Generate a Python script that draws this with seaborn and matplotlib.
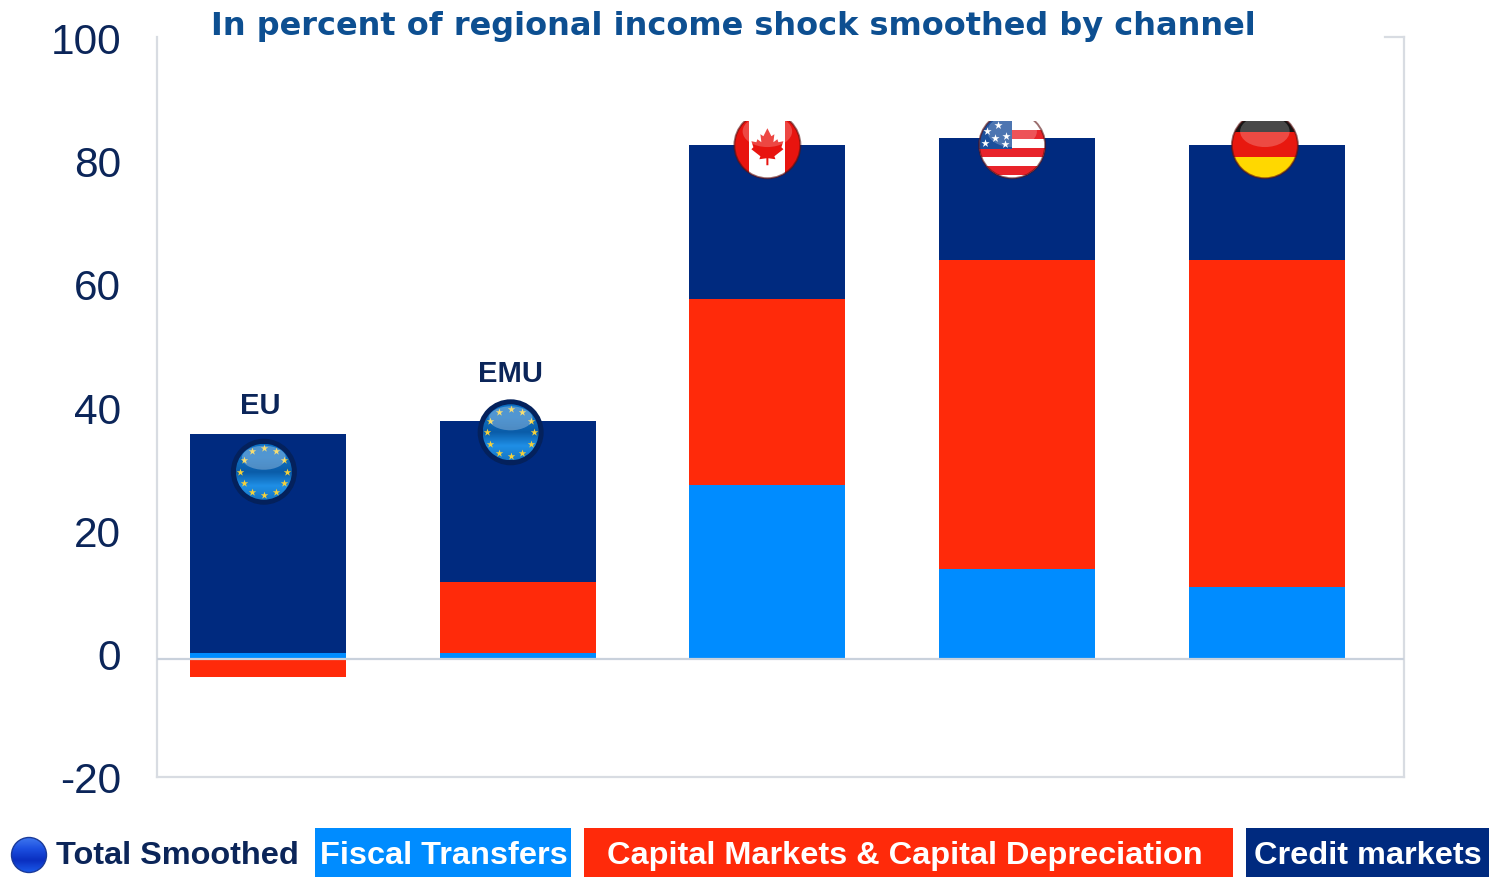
import numpy as np
import pandas as pd
import seaborn as sns
import matplotlib
matplotlib.use('Agg')
import matplotlib.pyplot as plt
from matplotlib.patches import Circle, Ellipse, Rectangle, Polygon

# values
regions = ['EU', 'EMU', 'Canada', 'USA', 'Germany']
fiscal_transfers = [1.0, 1.0, 28.2, 14.6, 11.7]
capital_markets = [-3.0, 11.5, 30.2, 50.2, 53.1]
credit_markets = [35.5, 26.1, 25.0, 19.8, 18.6]
total_smoothed = [30.4, 36.8, 83.4, 83.4, 83.4]
region_labels = ['EU', 'EMU', '', '', '']
y_ticks = [-20, 0, 20, 40, 60, 80, 100]

BLUE = '#008cff'
RED = '#ff2a0a'
NAVY = '#002a7f'
TEXT = '#0b2559'
GRID = '#d8dce2'

sns.set_theme(style='white')
plt.rcParams['font.family'] = ['Liberation Sans', 'DejaVu Sans']

W, H = 1489, 877
fig = plt.figure(figsize=(W / 100, H / 100), dpi=100)
ax = fig.add_axes([157 / W, (H - 782.2) / H, (1404 - 157) / W, (782.2 - 37) / H])

df = pd.DataFrame({'region': regions, 'fiscal': fiscal_transfers,
                   'capital': capital_markets, 'credit': credit_markets})
df['capital_bottom'] = [0 if c < 0 else f for c, f in zip(df['capital'], df['fiscal'])]
df['credit_bottom'] = [f if c < 0 else f + c for c, f in zip(df['capital'], df['fiscal'])]

sns.barplot(data=df, x='region', y='fiscal', color=BLUE, saturation=1, width=0.625, ax=ax)
sns.barplot(data=df, x='region', y='capital', bottom=df['capital_bottom'], color=RED,
            saturation=1, width=0.625, ax=ax)
sns.barplot(data=df, x='region', y='credit', bottom=df['credit_bottom'], color=NAVY,
            saturation=1, width=0.625, ax=ax)
for p in ax.patches:
    p.set_linewidth(0)

ax.set_xlim(-0.444, 4.549)
ax.set_ylim(-20, 100.97)
ax.set_xlabel('')
ax.set_ylabel('')
ax.set_xticks([])
ax.set_yticks(y_ticks)
ax.set_yticklabels([str(t) for t in y_ticks], fontsize=30.5, color=TEXT)
ax.tick_params(axis='y', length=0, pad=26)
for lab in ax.get_yticklabels():
    lab.set_va('center')

box_bottom = -19.16
ax.axhline(0.0, color='#c9d1dc', lw=1.6, zorder=3)
ax.spines['bottom'].set_position(('data', box_bottom))
ax.spines['left'].set_bounds(box_bottom, 100.97)
ax.spines['right'].set_bounds(box_bottom, 100.97)
ax.spines['top'].set_bounds(4.473, 4.549)
for s in ax.spines.values():
    s.set_color(GRID)
    s.set_linewidth(1.6)

label_gap = [4.6, 7.7]
label_shift = [-0.03, -0.03]
for i, name in enumerate(region_labels):
    if name:
        top = df['credit_bottom'][i] + df['credit'][i]
        ax.text(i + label_shift[i], top + label_gap[i], name, ha='center', va='center',
                fontsize=21, fontweight='bold', color=TEXT)

fig.text(733 / W, 1 - 26 / H, 'In percent of regional income shock smoothed by channel',
         ha='center', va='center', fontsize=23, fontweight='bold',
         family='DejaVu Sans', color='#0d4f91')

# overlay in pixels, for the flags and the legend strip
ov = fig.add_axes([0, 0, 1, 1], zorder=5)
ov.set_xlim(0, W)
ov.set_ylim(H, 0)
ov.axis('off')
ov.patch.set_alpha(0)


def to_px(x, y):
    d = ax.transData.transform((x, y))
    return d[0], H - d[1]


def ball(cx, cy, r, colors):
    grad = np.linspace(0, 1, 64).reshape(-1, 1)
    cmap = matplotlib.colors.LinearSegmentedColormap.from_list('b', colors)
    im = ov.imshow(grad, cmap=cmap, extent=(cx - r, cx + r, cy + r, cy - r), aspect='auto', zorder=6)
    im.set_clip_path(Circle((cx, cy), r, transform=ov.transData))
    ov.set_xlim(0, W)
    ov.set_ylim(H, 0)


def gloss(cx, cy, r, top):
    e = Ellipse((cx, cy - r * 0.42), r * 1.5, r * 0.95, fc='white', alpha=0.22, lw=0, zorder=9)
    ov.add_patch(e)
    e.set_clip_path(Rectangle((0, top), W, H, transform=ov.transData))


def eu_flag(cx, cy):
    ov.add_patch(Circle((cx, cy), 33, fc='#04215c', lw=0, zorder=5.5))
    ball(cx, cy, 28, ['#0c6fc4', '#0f6ec0', '#0a5ca8', '#1f8fe6', '#1577c8'])
    ang = np.radians(np.arange(0, 360, 30))
    ov.scatter(cx + 23.5 * np.cos(ang), cy + 23.5 * np.sin(ang), marker='*', s=32, color='#f5d13b',
               lw=0, zorder=8)
    e = Ellipse((cx, cy - 14), 44, 24, fc='white', alpha=0.28, lw=0, zorder=9)
    ov.add_patch(e)


def clipped(cx, cy, r, top, patches):
    clip = Circle((cx, cy), r, transform=ov.transData)
    band = Rectangle((0, top), W, H, transform=ov.transData)
    for p in patches:
        ov.add_patch(p)
        p.set_clip_path(clip)
    halo = Circle((cx, cy), r, fc='none', ec='#5a1010', lw=1.4, alpha=0.6, zorder=8)
    ov.add_patch(halo)
    halo.set_clip_path(band)
    gloss(cx, cy, r, top)


def canada_flag(cx, cy, top):
    r = 33
    parts = [Rectangle((cx - r, top), 2 * r, 2 * r, fc='#e8140f', lw=0, zorder=6),
             Rectangle((cx - 18, top), 36, 2 * r, fc='white', lw=0, zorder=6.5)]
    clipped(cx, cy, r, top, parts)
    leaf = np.array([[0, -17], [4, -9], [7, -11], [6, -3], [10, -6], [11, -3], [16, -4], [14, 2], [16, 4],
                     [7, 11], [8, 14], [1, 13], [1, 20], [-1, 20], [-1, 13], [-8, 14], [-7, 11], [-16, 4],
                     [-14, 2], [-16, -4], [-11, -3], [-10, -6], [-6, -3], [-7, -11], [-4, -9]])
    ov.add_patch(Polygon(leaf + [cx, cy + 0], fc='#e8140f', lw=0, zorder=7))


def us_flag(cx, cy, top):
    r = 33
    parts = [Rectangle((cx - r, top), 2 * r, 2 * r, fc='white', lw=0, zorder=6)]
    for k, y0 in enumerate(np.arange(top, cy + r, 9)):
        if k % 2 == 1:
            parts.append(Rectangle((cx - r, y0), 2 * r, 9, fc='#e8232a', lw=0, zorder=6.2))
    parts.append(Rectangle((cx - r, top), r, cy + 4 - top, fc='#1c4f9c', lw=0, zorder=6.5))
    clipped(cx, cy, r, top, parts)
    sx = [cx - 25, cx - 14, cx - 6, cx - 27, cx - 17, cx - 7]
    sy = [cy - 14, cy - 20, cy - 9, cy - 2, cy - 7, cy - 1]
    ov.scatter(sx, sy, marker='*', s=38, color='white', lw=0, zorder=8)


def de_flag(cx, cy, top):
    r = 33
    parts = [Rectangle((cx - r, top), 2 * r, 12, fc='#151515', lw=0, zorder=6),
             Rectangle((cx - r, top + 11), 2 * r, 25, fc='#e8180f', lw=0, zorder=6),
             Rectangle((cx - r, top + 36), 2 * r, 30, fc='#ffd800', lw=0, zorder=6)]
    clipped(cx, cy, r, top, parts)


flag_shift = [-0.016, -0.028, 0.0, -0.02, -0.008]
flag_top = to_px(0, 87.3)[1]
pts = [to_px(i + flag_shift[i], total_smoothed[i]) for i in range(len(regions))]
eu_flag(*pts[0])
eu_flag(*pts[1])
canada_flag(pts[2][0], pts[2][1], flag_top)
us_flag(pts[3][0], pts[3][1], flag_top)
de_flag(pts[4][0], pts[4][1], flag_top)

# legend strip along the bottom
ball(29, 855, 17.5, ['#3f78f0', '#1c4fe0', '#0a2fc0', '#1a58e8'])
ov.add_patch(Circle((29, 855), 17.5, fc='none', ec='#1a3a9a', lw=1, zorder=7))
ov.text(56, 856, 'Total Smoothed', ha='left', va='center', fontsize=23.4, fontweight='bold', color=TEXT)

strip = [(315, 571, BLUE, 'Fiscal Transfers', 320),
         (584, 1233, RED, 'Capital Markets & Capital Depreciation', 607),
         (1246, 1489, NAVY, 'Credit markets', 1254)]
for x0, x1, col, txt, tx in strip:
    ov.add_patch(Rectangle((x0, 828), x1 - x0, H - 828, fc=col, lw=0, zorder=5))
    ov.text(tx, 856, txt, ha='left', va='center', fontsize=23.4, fontweight='bold', color='white', zorder=6)

fig.savefig('out.png', dpi=100, facecolor='white')
